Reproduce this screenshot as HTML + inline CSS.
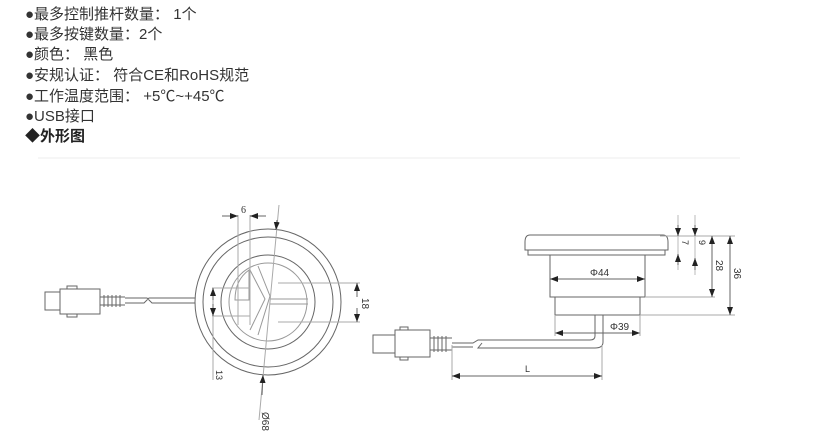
<!DOCTYPE html>
<html><head><meta charset="utf-8"><style>
body{margin:0;background:#fff;width:836px;height:433px;overflow:hidden;position:relative;font-family:"Liberation Sans","Noto Sans CJK SC",sans-serif;}
.t{position:absolute;left:25px;font-size:15px;color:#333;line-height:20px;white-space:nowrap}
</style></head><body>
<div class="t" style="top:5px">●最多控制推杆数量： 1个</div>
<div class="t" style="top:25px">●最多按键数量：2个</div>
<div class="t" style="top:45px">●颜色： 黑色</div>
<div class="t" style="top:66px">●安规认证： 符合CE和RoHS规范</div>
<div class="t" style="top:87px">●工作温度范围： +5℃~+45℃</div>
<div class="t" style="top:107px">●USB接口</div>
<div class="t" style="top:127px;font-weight:bold;font-size:15px;color:#222">◆外形图</div>
<svg width="836" height="433" style="position:absolute;left:0;top:0" fill="none" stroke="#666" stroke-width="1">
<line x1="38" y1="158" x2="740" y2="158" stroke="#eee"/>
<defs><marker id="a" markerWidth="8" markerHeight="6" refX="8" refY="3" orient="auto-start-reverse"><path d="M0,0L8,3L0,6z" fill="#222" stroke="none"/></marker></defs>
<circle cx="268" cy="302" r="73"/><circle cx="268" cy="302" r="65"/>
<circle cx="268" cy="302" r="47"/><circle cx="268" cy="302" r="39" stroke="#999"/>
<path d="M250,270 L265,299 L250,330 M258,266 L270,296 L258,335 M270,299 L308,299 M270,304 L308,304" stroke="#999"/>
<path d="M249,270 Q235,280 235,300 L249,300 Z" stroke="#999"/>
<line x1="238" y1="215" x2="238" y2="325" stroke="#aaa"/><line x1="250" y1="215" x2="250" y2="325" stroke="#aaa"/>
<line x1="222" y1="216" x2="238" y2="216" marker-end="url(#a)"/><line x1="266" y1="216" x2="250" y2="216" marker-end="url(#a)"/>
<text x="241" y="213" font-size="10" fill="#333" stroke="none" font-family="Liberation Serif">6</text>
<line x1="279" y1="205" x2="259" y2="420" stroke="#aaa"/>
<line x1="277" y1="220" x2="276" y2="230" marker-end="url(#a)"/><line x1="262" y1="395" x2="263" y2="375" marker-end="url(#a)"/>
<text x="262" y="412" font-size="10" fill="#333" stroke="none" transform="rotate(90 262 412)">Ø68</text>
<line x1="212" y1="288" x2="250" y2="288" stroke="#aaa"/><line x1="212" y1="316" x2="250" y2="316" stroke="#aaa"/>
<line x1="213" y1="288" x2="213" y2="380" stroke="#aaa"/>
<line x1="213" y1="300" x2="213" y2="288" marker-end="url(#a)"/><line x1="213" y1="304" x2="213" y2="316" marker-end="url(#a)"/>
<text x="216" y="370" font-size="9" fill="#333" stroke="none" transform="rotate(90 216 370)">13</text>
<line x1="278" y1="283" x2="360" y2="283" stroke="#aaa"/><line x1="278" y1="322" x2="360" y2="322" stroke="#aaa"/>
<line x1="357" y1="297" x2="357" y2="283" marker-end="url(#a)"/><line x1="357" y1="308" x2="357" y2="322" marker-end="url(#a)"/>
<text x="362" y="298" font-size="10" fill="#333" stroke="none" transform="rotate(90 362 298)">18</text>
<rect x="45" y="292" width="15" height="18"/><rect x="60" y="289" width="40" height="25"/>
<rect x="67" y="286" width="10" height="3"/><rect x="67" y="314" width="10" height="3"/>
<path d="M100,297 h25 M100,305 h25 M104,295v12 M108,295v12 M112,295v12 M116,295v12 M120,295v12"/>
<path d="M125,298 H147 L152,303 H195 M125,303 H144 L149,298 H195"/>
<path d="M530,235 H663 Q668,235 668,242 V250 H525 V242 Q525,235 530,235 Z"/>
<rect x="528" y="250" width="137" height="5"/>
<rect x="550" y="255" width="95" height="42"/>
<rect x="555" y="297" width="85" height="18"/>
<line x1="550" y1="279" x2="645" y2="279" marker-start="url(#a)" marker-end="url(#a)"/>
<text x="590" y="276" font-size="10" fill="#333" stroke="none">Φ44</text>
<line x1="555" y1="333" x2="640" y2="333" marker-start="url(#a)" marker-end="url(#a)"/>
<text x="610" y="330" font-size="10" fill="#333" stroke="none">Φ39</text>
<line x1="555" y1="315" x2="555" y2="336" stroke="#aaa"/><line x1="640" y1="315" x2="640" y2="336" stroke="#aaa"/>
<path d="M595,315 V336 Q595,340 590,340 H478 L473,343 H452 M603,315 V342 Q603,348 595,348 H478 L482,343 M473,347 H452"/>
<rect x="373" y="335" width="22" height="18"/><rect x="395" y="330" width="35" height="27"/>
<rect x="400" y="327" width="8" height="3"/><rect x="400" y="357" width="8" height="3"/>
<path d="M430,338 h22 M430,350 h22 M434,336v16 M438,336v16 M442,336v16 M446,336v16"/>
<line x1="452" y1="345" x2="452" y2="380" stroke="#aaa"/><line x1="602" y1="345" x2="602" y2="380" stroke="#aaa"/>
<line x1="452" y1="376" x2="602" y2="376" marker-start="url(#a)" marker-end="url(#a)"/>
<text x="525" y="372" font-size="9" fill="#333" stroke="none">L</text>
<line x1="660" y1="236" x2="735" y2="236" stroke="#aaa"/><line x1="645" y1="297" x2="715" y2="297" stroke="#aaa"/><line x1="640" y1="315" x2="735" y2="315" stroke="#aaa"/>
<line x1="678" y1="215" x2="678" y2="270" stroke="#bbb"/><line x1="695" y1="215" x2="695" y2="275" stroke="#bbb"/>
<line x1="678" y1="225" x2="678" y2="236" marker-end="url(#a)"/><line x1="678" y1="265" x2="678" y2="254" marker-end="url(#a)"/>
<line x1="695" y1="225" x2="695" y2="236" marker-end="url(#a)"/><line x1="695" y1="270" x2="695" y2="258" marker-end="url(#a)"/>
<line x1="712" y1="236" x2="712" y2="297" marker-start="url(#a)" marker-end="url(#a)"/>
<line x1="730" y1="236" x2="730" y2="315" marker-start="url(#a)" marker-end="url(#a)"/>
<text x="682" y="240" font-size="9" fill="#333" stroke="none" transform="rotate(90 682 240)">7</text>
<text x="699" y="240" font-size="9" fill="#333" stroke="none" transform="rotate(90 699 240)">9</text>
<text x="716" y="260" font-size="10" fill="#333" stroke="none" transform="rotate(90 716 260)">28</text>
<text x="734" y="268" font-size="10" fill="#333" stroke="none" transform="rotate(90 734 268)">36</text>
</svg>
</body></html>
